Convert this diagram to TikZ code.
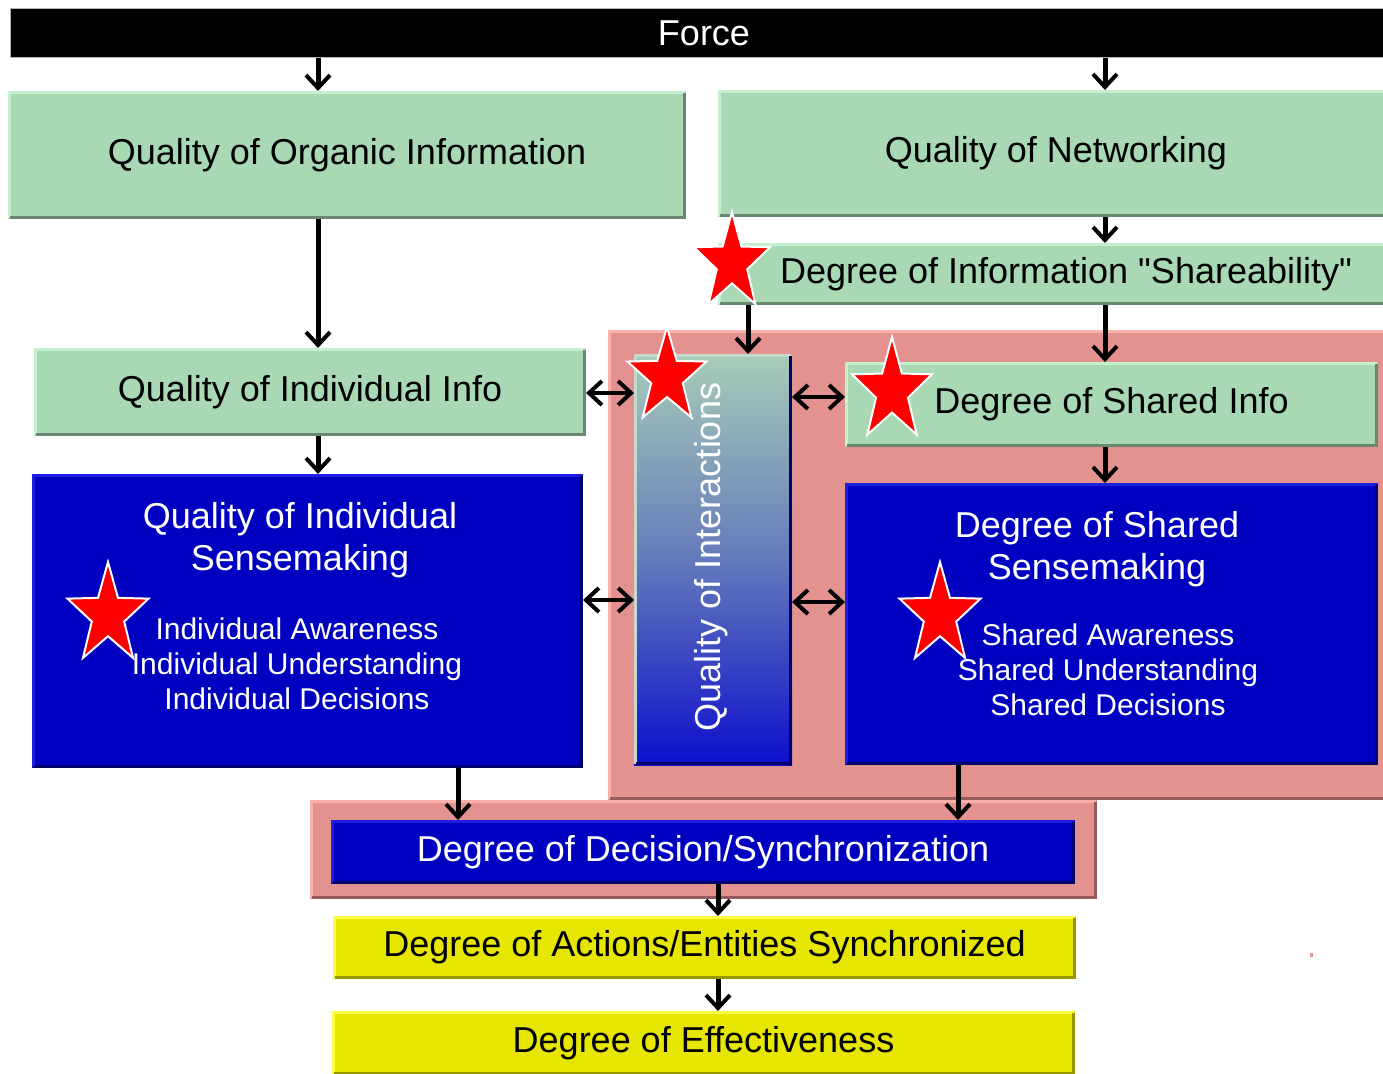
\documentclass[tikz,border=0pt]{standalone}
\usepackage{fontspec}
\setmainfont{Liberation Sans}[Ligatures=TeXOff]
\usetikzlibrary{arrows.meta,calc}
\definecolor{grn}{RGB}{168,216,180}
\definecolor{grnL}{RGB}{196,240,206}
\definecolor{grnD}{RGB}{104,136,112}
\definecolor{blu}{RGB}{0,0,192}
\definecolor{bluL}{RGB}{30,30,225}
\definecolor{bluD}{RGB}{0,0,105}
\definecolor{pnk}{RGB}{228,146,144}
\definecolor{pnkL}{RGB}{252,176,172}
\definecolor{pnkD}{RGB}{150,92,92}
\definecolor{yel}{RGB}{230,230,0}
\definecolor{yelL}{RGB}{252,252,70}
\definecolor{yelD}{RGB}{150,150,0}
\definecolor{intTop}{RGB}{168,204,184}
\definecolor{intMid}{RGB}{100,122,186}
\definecolor{intBot}{RGB}{14,14,205}
\newcommand\mybevel[3]{%
  \draw[line width=3pt,#2] ([shift={(1.5,1.5)}]#1.south west) -- ([shift={(1.5,-1.5)}]#1.north west) -- ([shift={(-1.5,-1.5)}]#1.north east);
  \draw[line width=3pt,#3] ([shift={(-1.5,-1.5)}]#1.north east) -- ([shift={(-1.5,1.5)}]#1.south east) -- ([shift={(1.5,1.5)}]#1.south west);}
\newcommand\mystar[4]{%
  \filldraw[fill=red, draw=white, line width=2pt, line join=miter, shift={(#1,#2)}]
   (90:#3 and #4) -- (126:0.4*#3 and 0.4*#4) -- (162:#3 and #4) -- (198:0.4*#3 and 0.4*#4)
   -- (234:#3 and #4) -- (270:0.4*#3 and 0.4*#4) -- (306:#3 and #4) -- (342:0.4*#3 and 0.4*#4)
   -- (18:#3 and #4) -- (54:0.4*#3 and 0.4*#4) -- cycle;}
\tikzset{
  box/.style={rectangle, draw=none, inner sep=0pt, outer sep=0pt},
  big/.style={font=\fontsize{36}{42}\selectfont},
  small/.style={font=\fontsize{30}{35}\selectfont},
  gbox/.style={box, fill=grn, text=black, big},
  bbox/.style={box, fill=blu, text=white, big},
  ybox/.style={box, fill=yel, text=black, big},
  pbox/.style={box, fill=pnk},
  arr/.style={line width=5pt, -{Straight Barb[length=13pt,width=24pt,line width=4pt]}},
  dbl/.style={line width=4pt, {Straight Barb[length=13pt,width=24pt,line width=4pt]}-{Straight Barb[length=13pt,width=24pt,line width=4pt]}},
}
\begin{document}
\begin{tikzpicture}[x=1pt,y=1pt]
\useasboundingbox (0,0) rectangle (1383,-1073);
\clip (0,0) rectangle (1383,-1073);
\fill[white] (0,0) rectangle (1383,-1073);

% pink regions
\node[pbox, minimum width=782pt, minimum height=470pt] (pinkA) at (999,-565) {};
\mybevel{pinkA}{pnkL}{pnkD}
\node[pbox, minimum width=787pt, minimum height=99pt] (pinkB) at (703.5,-849.5) {};
\mybevel{pinkB}{pnkL}{pnkD}

% top bar
\node[box, fill=black, draw=gray!60, line width=1pt, text=white, big, minimum width=1388pt, minimum height=49pt] (force) at (704,-33.5) {Force};

% green boxes
\node[gbox, minimum width=678pt, minimum height=128pt] (org) at (347,-155) {Quality of Organic Information};
\mybevel{org}{grnL}{grnD}
\node[gbox, minimum width=676pt, minimum height=127pt] (net) at (1056,-153.5) {Quality of Networking};
\mybevel{net}{grnL}{grnD}
\node[gbox, minimum width=696pt, minimum height=62pt] (share) at (1066,-274) {Degree of Information "Shareability"};
\mybevel{share}{grnL}{grnD}
\node[gbox, minimum width=552pt, minimum height=88pt] (indinfo) at (310,-392) {Quality of Individual Info};
\mybevel{indinfo}{grnL}{grnD}
\node[gbox, minimum width=533pt, minimum height=85pt] (shinfo) at (1111.5,-404.5) {Degree of Shared Info};
\mybevel{shinfo}{grnL}{grnD}

% interactions
\node[box, top color=intTop, bottom color=intBot, middle color=intMid, minimum width=158pt, minimum height=411pt] (inter) at (713,-559.5) {};
\mybevel{inter}{intTop!70!white}{bluD}
\node[box, text=white, big, rotate=90] (intertext) at (711,-557) {Quality of Interactions};

% blue boxes
\node[bbox, minimum width=551pt, minimum height=294pt] (indsense) at (307.5,-621) {};
\mybevel{indsense}{bluL}{bluD}
\node[box, text=white, big, align=center] (indsenseT) at (300,-540) {Quality of Individual\\Sensemaking};
\node[box, text=white, small, align=center] (indsenseS) at (297,-664) {Individual Awareness\\Individual Understanding\\Individual Decisions};

\node[bbox, minimum width=533pt, minimum height=282pt] (shsense) at (1111.5,-624) {};
\mybevel{shsense}{bluL}{bluD}
\node[box, text=white, big, align=center] (shsenseT) at (1097,-549) {Degree of Shared\\Sensemaking};
\node[box, text=white, small, align=center] (shsenseS) at (1108,-670) {Shared Awareness\\Shared Understanding\\Shared Decisions};

\node[bbox, minimum width=744pt, minimum height=64pt] (dec) at (703,-852) {Degree of Decision/Synchronization};
\mybevel{dec}{bluL}{bluD}

% yellow boxes
\node[ybox, minimum width=743pt, minimum height=63pt] (act) at (704.5,-947.5) {Degree of Actions/Entities Synchronized};
\mybevel{act}{yelL}{yelD}
\node[ybox, minimum width=743pt, minimum height=64pt] (eff) at (703.5,-1043) {Degree of Effectiveness};
\mybevel{eff}{yelL}{yelD}

% arrows
\draw[arr] (318,0 |- force.south) -- (318,0 |- org.north);
\draw[arr] (1105,0 |- force.south) -- (1105,0 |- net.north);
\draw[arr] (1105,0 |- net.south) -- (1105,0 |- share.north);
\draw[arr] (318,0 |- org.south) -- (318,0 |- indinfo.north);
\draw[arr] (748,0 |- share.south) -- (748,0 |- inter.north);
\draw[arr] (1105,0 |- share.south) -- (1105,0 |- shinfo.north);
\draw[arr] (318,0 |- indinfo.south) -- (318,0 |- indsense.north);
\draw[arr] (1105,0 |- shinfo.south) -- (1105,0 |- shsense.north);
\draw[arr] (458,0 |- indsense.south) -- (458,0 |- dec.north);
\draw[arr] (958,0 |- shsense.south) -- (958,0 |- dec.north);
\draw[arr] (718,0 |- dec.south) -- (718,0 |- act.north);
\draw[arr] (718,0 |- act.south) -- (718,0 |- eff.north);

\draw[dbl] (indinfo.east |- 0,-393) -- (inter.west |- 0,-393);
\draw[dbl] (inter.east |- 0,-397) -- (shinfo.west |- 0,-397);
\draw[dbl] (indsense.east |- 0,-600) -- (inter.west |- 0,-600);
\draw[dbl] (inter.east |- 0,-602) -- (shsense.west |- 0,-602);

% stars
\mystar{732}{-263}{40}{51}
\mystar{667}{-377}{41.5}{50}
\mystar{892}{-391}{42}{54}
\mystar{108}{-615}{42.6}{53}
\mystar{940}{-615}{42.6}{53}

% small mark
\fill[pnk] (1309.5,-953) rectangle (1312.5,-957);
\end{tikzpicture}
\end{document}
